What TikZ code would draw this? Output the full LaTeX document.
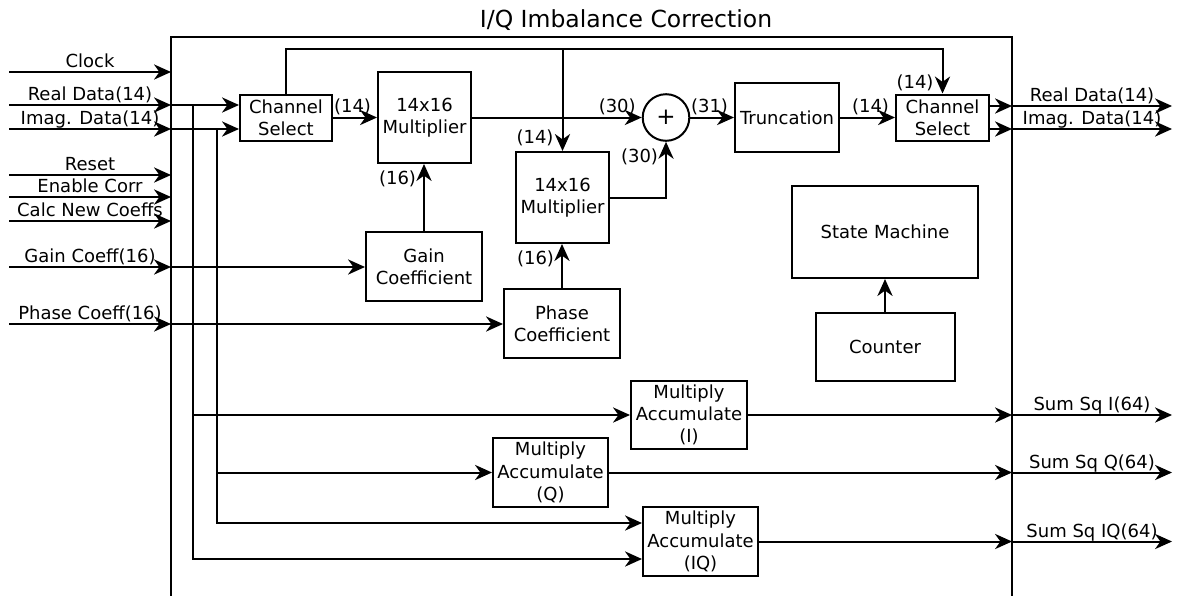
\documentclass[tikz,border=0pt]{standalone}
\usepackage{fontspec}
\setmainfont{DejaVu Sans}
\usetikzlibrary{arrows.meta,calc}

\begin{document}
\begin{tikzpicture}[x=0.5pt,y=-0.5pt,
  every node/.style={font=\fontsize{9}{11.1}\selectfont},
  line/.style={line width=1pt},
  arr/.style={line width=1pt,-{Stealth[length=8.5pt,width=7.6pt,inset=2.7pt]}},
  blk/.style={draw,line width=1pt,align=center,inner sep=0.5pt},
  lab/.style={above,text depth=0pt,inner sep=1.6pt},
  bwtop/.style={anchor=south east,inner sep=1pt,xshift=-1.5pt},
  bwbot/.style={anchor=north east,inner sep=1pt,xshift=-2.5pt,yshift=-2pt},
]
\useasboundingbox (0,0) rectangle (1181,595);

% title and enclosing block
\node[font=\fontsize{11.75}{14}\selectfont] (title) at (626,20) {I/Q Imbalance Correction};
\draw[line] (171,597) -- (171,37) -- (1012,37) -- (1012,597);
\coordinate (bxL) at (171,37);
\coordinate (bxR) at (1012,37);
\coordinate (rEnd) at (1172,0);

% input ports
\foreach \yy/\nm/\txt in {72/clk/Clock, 105/re/Real Data(14), 129/im/Imag. Data(14),
    175/rst/Reset, 197/en/Enable Corr, 221/calc/Calc New Coeffs,
    267/gain/Gain Coeff(16), 324/ph/Phase Coeff(16)} {
  \coordinate (in-\nm) at (9,\yy);
  \draw[arr] (in-\nm) -- node[lab]{\txt} (in-\nm -| bxL);
}

% processing blocks
\node[blk,minimum width=46pt,minimum height=23pt] (cs1) at (286,117.5) {Channel\\Select};
\node[blk,minimum width=46.5pt,minimum height=45.5pt] (m1) at (424.5,117.5) {14x16\\Multiplier};
\node[draw,circle,line width=1pt,minimum size=23.3pt,inner sep=0pt,font=\fontsize{11.5}{12}\selectfont] (sum) at (666,117.5) {+};
\node[blk,minimum width=52pt,minimum height=34.5pt] (trunc) at (787,117.5) {Truncation};
\node[blk,minimum width=46.5pt,minimum height=23pt] (cs2) at (942.5,117.5) {Channel\\Select};
\node[blk,minimum width=58pt,minimum height=34.5pt] (gainc) at (424,266.5) {Gain\\Coefficient};
\node[blk,minimum width=46.5pt,minimum height=45.5pt] (m2) at (562.5,197.5) {14x16\\Multiplier};
\node[blk,minimum width=58pt,minimum height=34.5pt] (phc) at (562,323.5) {Phase\\Coefficient};
\node[blk,minimum width=93pt,minimum height=46pt] (sm) at (885,232) {State Machine};
\node[blk,minimum width=69.5pt,minimum height=34pt] (cnt) at (885,347) {Counter};
\node[blk,minimum width=58pt,minimum height=34pt] (maci) at (689,415) {Multiply\\Accumulate\\(I)};
\node[blk,minimum width=57.5pt,minimum height=34.5pt] (macq) at (550.5,472.5) {Multiply\\Accumulate\\(Q)};
\node[blk,minimum width=57.5pt,minimum height=34.5pt] (maciq) at (700.5,541.5) {Multiply\\Accumulate\\(IQ)};

% data inputs into the block
\draw[arr] (in-re -| bxL) -- (in-re -| cs1.west);
\draw[arr] (in-im -| bxL) -- (in-im -| cs1.west);
\draw[arr] (in-gain -| bxL) -- (in-gain -| gainc.west);
\draw[arr] (in-ph -| bxL) -- (in-ph -| phc.west);

% taps feeding the multiply-accumulate units
\coordinate (tapR) at (193,105);
\coordinate (tapI) at (217,129);
\coordinate (iqA) at ($(maciq.west)+(0,-18.5)$);
\coordinate (iqB) at ($(maciq.west)+(0,17.5)$);
\draw[arr] (tapR) |- (iqB);
\draw[arr] (tapR |- maci.west) -- (maci.west);
\draw[arr] (tapI) |- (iqA);
\draw[arr] (tapI |- macq.west) -- (macq.west);

% correction datapath
\coordinate (fb) at (0,49);
\draw[arr] (cs1.north) |- (cs2.north |- fb) -- (cs2.north) node[bwtop,xshift=-1.5pt]{(14)};
\draw[arr] (m2.north |- fb) -- (m2.north) node[bwtop,xshift=-1.5pt,yshift=1pt]{(14)};
\draw[arr] (cs1.east) -- (m1.west) node[bwtop]{(14)};
\draw[arr] (m1.east) -- (sum.west) node[bwtop]{(30)};
\draw[arr] (m2.east) -| (sum.south) node[bwbot]{(30)};
\draw[arr] (sum.east) -- (trunc.west) node[bwtop]{(31)};
\draw[arr] (trunc.east) -- (cs2.west) node[bwtop]{(14)};
\draw[arr] (gainc.north) -- (gainc.north |- m1.south) node[bwbot]{(16)};
\draw[arr] (phc.north) -- (phc.north |- m2.south) node[bwbot]{(16)};
\draw[arr] (cnt.north) -- (sm.south);

% output ports
\coordinate (oRe) at ($(cs2.east)+(0,-11.5)$);
\coordinate (oIm) at ($(cs2.east)+(0,11.5)$);
\draw[arr] (oRe) -- (oRe -| bxR);
\draw[arr] (oIm) -- (oIm -| bxR);
\draw[arr] (oRe -| bxR) -- node[lab]{Real Data(14)} (oRe -| rEnd);
\draw[arr] (oIm -| bxR) -- node[lab]{Imag. Data(14)} (oIm -| rEnd);
\draw[arr] (maci.east) -- (maci.east -| bxR);
\draw[arr] (maci.east -| bxR) -- node[lab]{Sum Sq I(64)} (maci.east -| rEnd);
\draw[arr] (macq.east) -- (macq.east -| bxR);
\draw[arr] (macq.east -| bxR) -- node[lab]{Sum Sq Q(64)} (macq.east -| rEnd);
\draw[arr] (maciq.east) -- (maciq.east -| bxR);
\draw[arr] (maciq.east -| bxR) -- node[lab]{Sum Sq IQ(64)} (maciq.east -| rEnd);
\end{tikzpicture}
\end{document}
